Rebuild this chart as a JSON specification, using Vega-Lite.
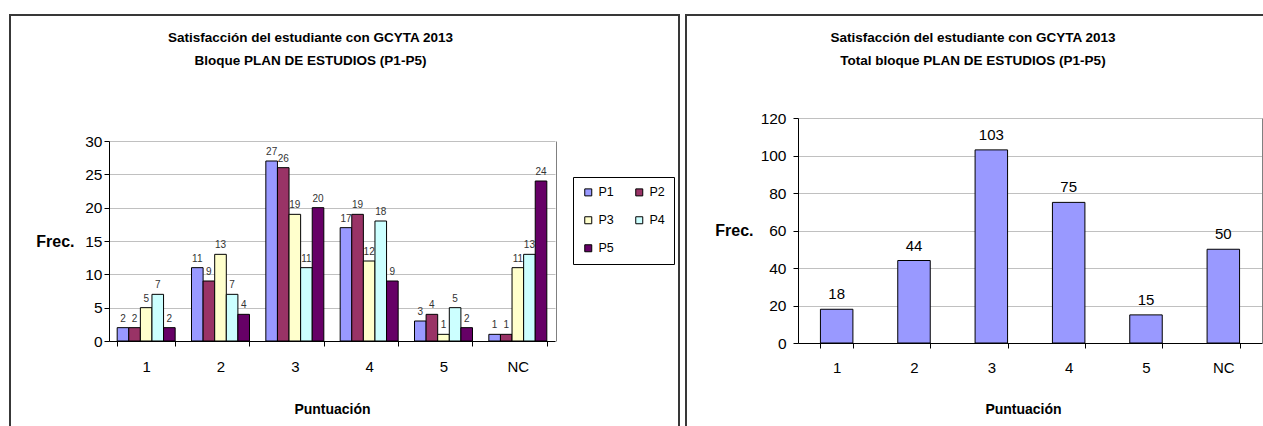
{
  "$schema": "https://vega.github.io/schema/vega-lite/v6.json",
  "padding": {"left": 9, "top": 14, "right": 0, "bottom": 0},
  "spacing": 5,
  "config": {
    "font": "Liberation Sans",
    "view": {"stroke": "#383838", "strokeWidth": 2},
    "axis": {"labelColor": "black", "titleColor": "black", "domainColor": "black", "tickColor": "black", "labelFont": "Liberation Sans", "titleFont": "Liberation Sans"},
    "title": {"color": "black"}
  },
  "datasets": {
    "detalle": [
      {"punt": "1", "serie": "P1", "frec": 2}, {"punt": "1", "serie": "P2", "frec": 2}, {"punt": "1", "serie": "P3", "frec": 5}, {"punt": "1", "serie": "P4", "frec": 7}, {"punt": "1", "serie": "P5", "frec": 2},
      {"punt": "2", "serie": "P1", "frec": 11}, {"punt": "2", "serie": "P2", "frec": 9}, {"punt": "2", "serie": "P3", "frec": 13}, {"punt": "2", "serie": "P4", "frec": 7}, {"punt": "2", "serie": "P5", "frec": 4},
      {"punt": "3", "serie": "P1", "frec": 27}, {"punt": "3", "serie": "P2", "frec": 26}, {"punt": "3", "serie": "P3", "frec": 19}, {"punt": "3", "serie": "P4", "frec": 11}, {"punt": "3", "serie": "P5", "frec": 20},
      {"punt": "4", "serie": "P1", "frec": 17}, {"punt": "4", "serie": "P2", "frec": 19}, {"punt": "4", "serie": "P3", "frec": 12}, {"punt": "4", "serie": "P4", "frec": 18}, {"punt": "4", "serie": "P5", "frec": 9},
      {"punt": "5", "serie": "P1", "frec": 3}, {"punt": "5", "serie": "P2", "frec": 4}, {"punt": "5", "serie": "P3", "frec": 1}, {"punt": "5", "serie": "P4", "frec": 5}, {"punt": "5", "serie": "P5", "frec": 2},
      {"punt": "NC", "serie": "P1", "frec": 1}, {"punt": "NC", "serie": "P2", "frec": 1}, {"punt": "NC", "serie": "P3", "frec": 11}, {"punt": "NC", "serie": "P4", "frec": 13}, {"punt": "NC", "serie": "P5", "frec": 24}
    ],
    "total": [
      {"punt": "1", "frec": 18}, {"punt": "2", "frec": 44}, {"punt": "3", "frec": 103},
      {"punt": "4", "frec": 75}, {"punt": "5", "frec": 15}, {"punt": "NC", "frec": 50}
    ]
  },
  "hconcat": [
    {
      "width": 669,
      "height": 420,
      "data": {"name": "detalle"},
      "title": {
        "text": ["Satisfacción del estudiante con GCYTA 2013", "Bloque PLAN DE ESTUDIOS (P1-P5)"],
        "fontSize": 13.5, "fontWeight": "bold", "lineHeight": 23, "anchor": "middle", "frame": "group",
        "baseline": "top", "offset": -52, "dx": -34
      },
      "resolve": {"axis": {"y": "independent"}},
      "layer": [
        {
          "mark": {"type": "bar", "stroke": "black", "strokeWidth": 1},
          "encoding": {
            "x": {
              "field": "punt", "type": "nominal", "sort": ["1", "2", "3", "4", "5", "NC"],
              "scale": {"range": [99, 545], "paddingInner": 0.22, "paddingOuter": 0.11},
              "axis": {"title": "Puntuación", "titleFontWeight": "bold", "titleFontSize": 14, "titleX": 322, "titleY": 68, "titleBaseline": "middle",
                       "labelAngle": 0, "labelFontSize": 15, "labelPadding": 13, "tickBand": "extent", "tickSize": 5, "offset": -94, "grid": false}
            },
            "xOffset": {"field": "serie", "type": "nominal", "sort": ["P1", "P2", "P3", "P4", "P5"]},
            "y": {
              "field": "frec", "type": "quantitative",
              "scale": {"domain": [0, 30], "range": [326, 126], "nice": false},
              "axis": {"title": "Frec.", "titleAngle": 0, "titleAlign": "right", "titleBaseline": "middle", "titleX": -35, "titleY": 226,
                       "titleFontSize": 16, "titleFontWeight": "bold", "values": [0, 5, 10, 15, 20, 25, 30], "offset": -99,
                       "grid": true, "gridColor": "#c0c0c0", "tickSize": 5, "labelFontSize": 15.5, "labelPadding": 2}
            },
            "color": {
              "field": "serie", "type": "nominal",
              "scale": {"domain": ["P1", "P2", "P3", "P4", "P5"], "range": ["#9999FF", "#993366", "#FFFFCC", "#CCFFFF", "#660066"]},
              "legend": {"orient": "none", "legendX": 563, "legendY": 162, "columns": 2, "direction": "horizontal", "title": null, "strokeColor": "black",
                         "padding": 9, "symbolType": "square", "symbolSize": 49, "symbolStrokeColor": "black", "symbolStrokeWidth": 1,
                         "labelFontSize": 12.5, "labelColor": "black", "rowPadding": 15, "columnPadding": 19, "labelOffset": 4}
            }
          }
        },
        {
          "mark": {"type": "text", "baseline": "bottom", "dy": -4, "fontSize": 10, "color": "#333333"},
          "encoding": {
            "x": {"field": "punt", "type": "nominal", "sort": ["1", "2", "3", "4", "5", "NC"]},
            "xOffset": {"field": "serie", "type": "nominal", "sort": ["P1", "P2", "P3", "P4", "P5"]},
            "y": {"field": "frec", "type": "quantitative",
                  "axis": {"orient": "right", "offset": -123, "domainColor": "#808080", "ticks": false, "labels": false, "title": null, "grid": false}},
            "text": {"field": "frec", "type": "quantitative"}
          }
        }
      ]
    },
    {
      "width": 590,
      "height": 420,
      "data": {"name": "total"},
      "title": {
        "text": ["Satisfacción del estudiante con GCYTA 2013", "Total bloque PLAN DE ESTUDIOS (P1-P5)"],
        "fontSize": 13.5, "fontWeight": "bold", "lineHeight": 23, "anchor": "middle", "frame": "group",
        "baseline": "top", "offset": -52, "dx": -8
      },
      "resolve": {"axis": {"y": "independent"}},
      "layer": [
        {
          "mark": {"type": "bar", "stroke": "black", "strokeWidth": 1, "fill": "#9999FF"},
          "encoding": {
            "x": {
              "field": "punt", "type": "nominal", "sort": ["1", "2", "3", "4", "5", "NC"],
              "scale": {"range": [112, 576], "paddingInner": 0.58, "paddingOuter": 0.29},
              "axis": {"title": "Puntuación", "titleFontWeight": "bold", "titleFontSize": 14, "titleX": 337, "titleY": 66, "titleBaseline": "middle",
                       "labelAngle": 0, "labelFontSize": 15, "labelPadding": 12, "tickBand": "extent", "tickSize": 5, "offset": -92, "grid": false}
            },
            "y": {
              "field": "frec", "type": "quantitative",
              "scale": {"domain": [0, 120], "range": [328, 103], "nice": false},
              "axis": {"title": "Frec.", "titleAngle": 0, "titleAlign": "right", "titleBaseline": "middle", "titleX": -45, "titleY": 215,
                       "titleFontSize": 16, "titleFontWeight": "bold", "values": [0, 20, 40, 60, 80, 100, 120], "offset": -112,
                       "grid": true, "gridColor": "#c0c0c0", "tickSize": 5, "labelFontSize": 15.5, "labelPadding": 7}
            }
          }
        },
        {
          "mark": {"type": "text", "baseline": "bottom", "dy": -7, "fontSize": 15, "color": "black"},
          "encoding": {
            "x": {"field": "punt", "type": "nominal", "sort": ["1", "2", "3", "4", "5", "NC"]},
            "y": {"field": "frec", "type": "quantitative",
                  "axis": {"orient": "right", "offset": -14, "domainColor": "#808080", "ticks": false, "labels": false, "title": null, "grid": false}},
            "text": {"field": "frec", "type": "quantitative"}
          }
        }
      ]
    }
  ]
}
